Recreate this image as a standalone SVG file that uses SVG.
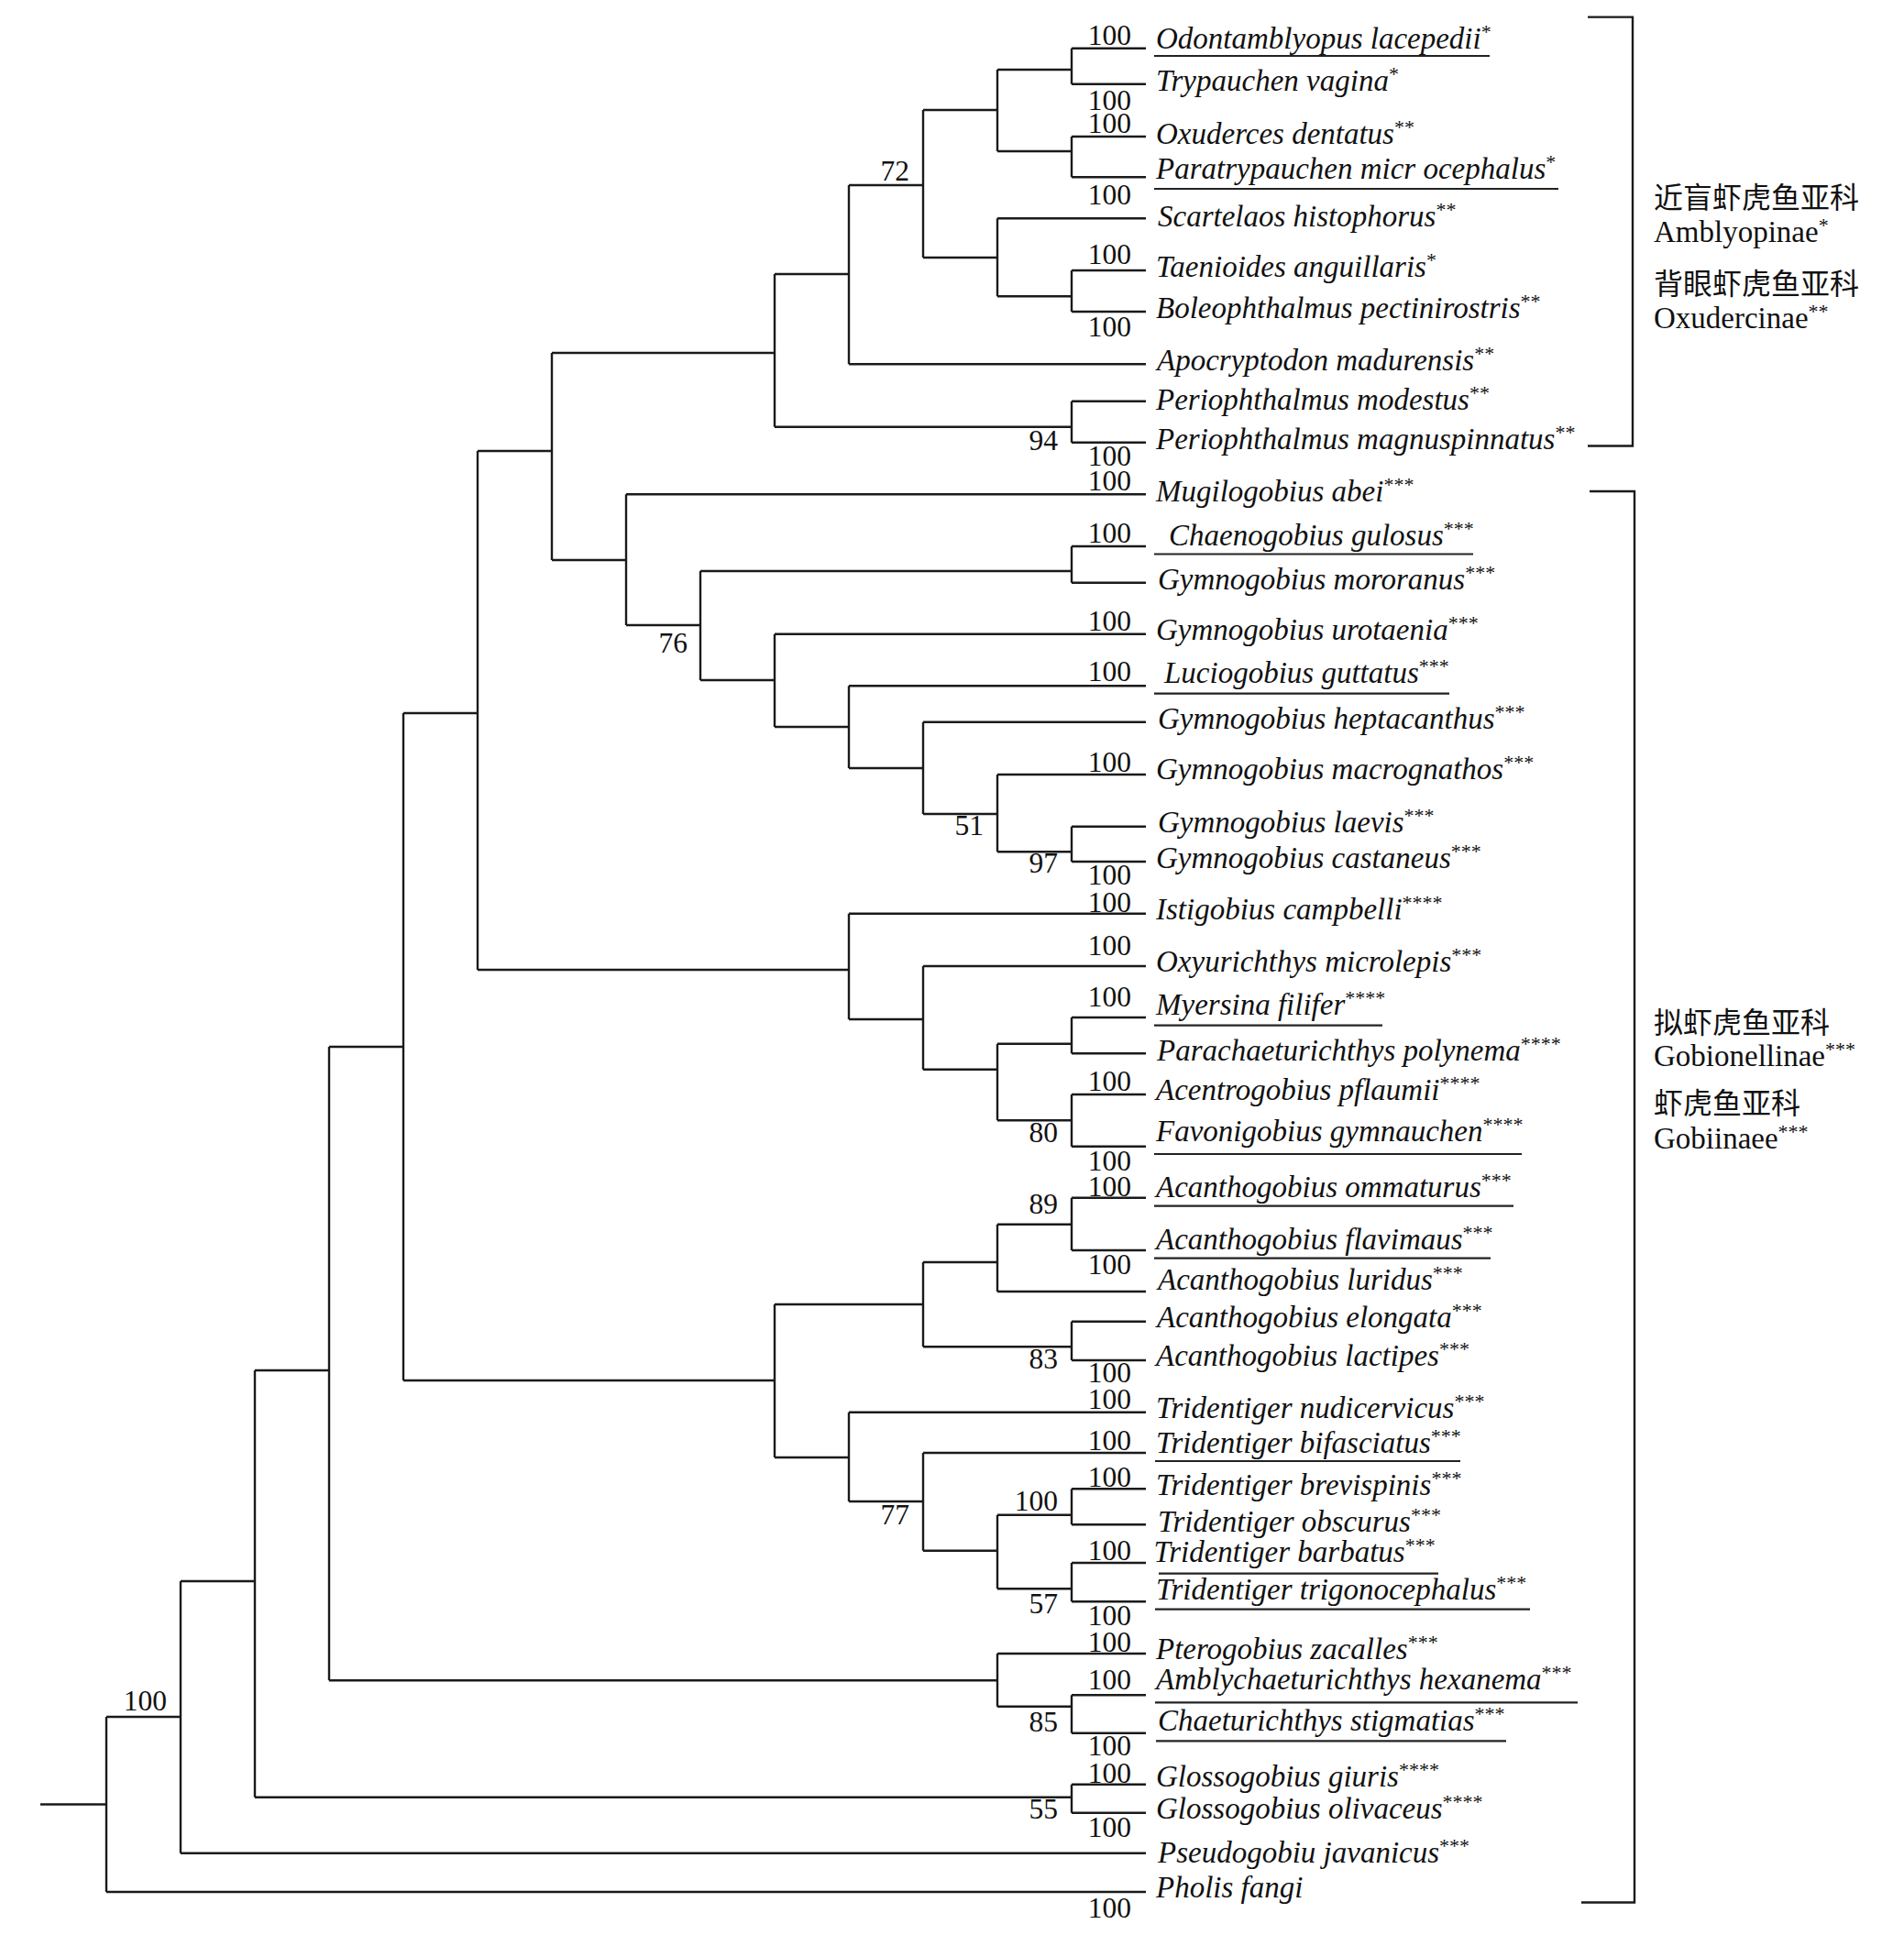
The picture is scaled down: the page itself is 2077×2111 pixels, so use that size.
<svg xmlns="http://www.w3.org/2000/svg" width="2077" height="2111" viewBox="0 0 2077 2111">
<style>
.sp{font-family:"Liberation Serif","Times New Roman",serif;font-style:italic;font-size:33px;fill:#111}
.a{font-size:22px;font-style:normal}
.bs{font-family:"Liberation Serif","Times New Roman",serif;font-size:31.5px;fill:#111;text-anchor:end}
.grp{font-family:"Liberation Serif","Times New Roman",serif;font-size:33px;fill:#111}
.cjk{font-family:"Noto Sans CJK SC","Noto Sans CJK TC",sans-serif;font-size:32px;fill:#111}
.u{stroke:#222;stroke-width:2.2}
#connectors path{fill:none;stroke:#1a1a1a;stroke-width:2.4}
.br{fill:none;stroke:#1a1a1a;stroke-width:2.4}
</style>
<rect width="2077" height="2111" fill="#fff"/>
<g id="connectors">
<path d="M1169,52.7H1250M1169,91.7H1250M1169,149H1250M1169,193.3H1250M1088,238.3H1250M1169,295H1250M1169,340H1250M926,397.3H1250M1169,437.7H1250M1169,482.7H1250"/>
<path d="M683,539.3H1250M1169,596H1250M1169,635.7H1250M845,691.7H1250M926,748.3H1250M1007,787.7H1250M1088,845H1250M1169,901.7H1250M1169,940H1250"/>
<path d="M926,996.7H1250M1007,1054H1250M1169,1110H1250M1169,1149.3H1250M1169,1194H1250M1169,1250.7H1250"/>
<path d="M1169,1306.7H1250M1169,1364H1250M1088,1409H1250M1169,1441.7H1250M1169,1484H1250M926,1540.7H1250M1007,1585H1250M1169,1624.3H1250M1169,1663.3H1250M1169,1705H1250M1169,1747.3H1250"/>
<path d="M1088,1804H1250M1169,1849.3H1250M1169,1890.7H1250M1169,1946.7H1250M1169,1977.7H1250M197,2021.7H1250M116,2064H1250"/>
<path d="M1169,52.7V91.7M1088,76H1169"/>
<path d="M1169,149V193.3M1088,165H1169"/>
<path d="M1088,76V165M1007,120H1088"/>
<path d="M1169,295V340M1088,323.3H1169"/>
<path d="M1088,238.3V323.3M1007,281H1088"/>
<path d="M1007,120V281M926,202H1007"/>
<path d="M926,202V397.3M845,299H926"/>
<path d="M1169,437.7V482.7M845,465.7H1169"/>
<path d="M845,299V465.7M602,385H845"/>
<path d="M1169,596V635.7M764,623H1169"/>
<path d="M1169,901.7V940M1088,929.3H1169"/>
<path d="M1088,845V929.3M1007,888H1088"/>
<path d="M1007,787.7V888M926,838H1007"/>
<path d="M926,748.3V838M845,793H926"/>
<path d="M845,691.7V793M764,742H845"/>
<path d="M764,623V742M683,682H764"/>
<path d="M683,539.3V682M602,611H683"/>
<path d="M602,385V611M521,492H602"/>
<path d="M1169,1110V1149.3M1088,1138.7H1169"/>
<path d="M1169,1194V1250.7M1088,1222.3H1169"/>
<path d="M1088,1138.7V1222.3M1007,1166.7H1088"/>
<path d="M1007,1054V1166.7M926,1112H1007"/>
<path d="M926,996.7V1112M521,1058H926"/>
<path d="M521,492V1058M440,778H521"/>
<path d="M1169,1306.7V1364M1088,1335.7H1169"/>
<path d="M1088,1335.7V1409M1007,1377H1088"/>
<path d="M1169,1441.7V1484M1007,1469.3H1169"/>
<path d="M1007,1377V1469.3M845,1423H1007"/>
<path d="M1169,1624.3V1663.3M1088,1652.7H1169"/>
<path d="M1169,1705V1747.3M1088,1733.3H1169"/>
<path d="M1088,1652.7V1733.3M1007,1691.7H1088"/>
<path d="M1007,1585V1691.7M926,1638H1007"/>
<path d="M926,1540.7V1638M845,1590H926"/>
<path d="M845,1423V1590M440,1506H845"/>
<path d="M440,778V1506M359,1142H440"/>
<path d="M1169,1849.3V1890.7M1088,1861.7H1169"/>
<path d="M1088,1804V1861.7M359,1833.3H1088"/>
<path d="M359,1142V1833.3M278,1495H359"/>
<path d="M1169,1946.7V1977.7M278,1960.7H1169"/>
<path d="M278,1495V1960.7M197,1725H278"/>
<path d="M197,1725V2021.7M116,1873H197"/>
<path d="M116,1873V2064M44,1968.5H116"/>
</g>
<g id="taxa">
<g id="t01"><text class="sp" x="1261" y="53">Odontamblyopus lacepedii<tspan class="a" dy="-11">*</tspan></text><line class="u" x1="1259" y1="61" x2="1625" y2="61"/></g>
<g id="t02"><text class="sp" x="1261" y="99">Trypauchen vagina<tspan class="a" dy="-11">*</tspan></text></g>
<g id="t03"><text class="sp" x="1261" y="156.7">Oxuderces dentatus<tspan class="a" dy="-11">**</tspan></text></g>
<g id="t04"><text class="sp" x="1261" y="195">Paratrypauchen micr ocephalus<tspan class="a" dy="-11">*</tspan></text><line class="u" x1="1259" y1="206" x2="1700" y2="206"/></g>
<g id="t05"><text class="sp" x="1263" y="246.7">Scartelaos histophorus<tspan class="a" dy="-11">**</tspan></text></g>
<g id="t06"><text class="sp" x="1261" y="301.7">Taenioides anguillaris<tspan class="a" dy="-11">*</tspan></text></g>
<g id="t07"><text class="sp" x="1261" y="346.7">Boleophthalmus pectinirostris<tspan class="a" dy="-11">**</tspan></text></g>
<g id="t08"><text class="sp" x="1262" y="404">Apocryptodon madurensis<tspan class="a" dy="-11">**</tspan></text></g>
<g id="t09"><text class="sp" x="1261" y="446.7">Periophthalmus modestus<tspan class="a" dy="-11">**</tspan></text></g>
<g id="t10"><text class="sp" x="1261" y="490">Periophthalmus magnuspinnatus<tspan class="a" dy="-11">**</tspan></text></g>
<g id="t11"><text class="sp" x="1261" y="546.7">Mugilogobius abei<tspan class="a" dy="-11">***</tspan></text></g>
<g id="t12"><text class="sp" x="1275" y="595">Chaenogobius gulosus<tspan class="a" dy="-11">***</tspan></text><line class="u" x1="1259" y1="604.5" x2="1607" y2="604.5"/></g>
<g id="t13"><text class="sp" x="1263" y="643">Gymnogobius mororanus<tspan class="a" dy="-11">***</tspan></text></g>
<g id="t14"><text class="sp" x="1261" y="698">Gymnogobius urotaenia<tspan class="a" dy="-11">***</tspan></text></g>
<g id="t15"><text class="sp" x="1270" y="745">Luciogobius guttatus<tspan class="a" dy="-11">***</tspan></text><line class="u" x1="1259" y1="756.7" x2="1581" y2="756.7"/></g>
<g id="t16"><text class="sp" x="1263" y="795">Gymnogobius heptacanthus<tspan class="a" dy="-11">***</tspan></text></g>
<g id="t17"><text class="sp" x="1261" y="850">Gymnogobius macrognathos<tspan class="a" dy="-11">***</tspan></text></g>
<g id="t18"><text class="sp" x="1263" y="908">Gymnogobius laevis<tspan class="a" dy="-11">***</tspan></text></g>
<g id="t19"><text class="sp" x="1261" y="946.7">Gymnogobius castaneus<tspan class="a" dy="-11">***</tspan></text></g>
<g id="t20"><text class="sp" x="1261" y="1003">Istigobius campbelli<tspan class="a" dy="-11">****</tspan></text></g>
<g id="t21"><text class="sp" x="1261" y="1060">Oxyurichthys microlepis<tspan class="a" dy="-11">***</tspan></text></g>
<g id="t22"><text class="sp" x="1261" y="1106.7">Myersina filifer<tspan class="a" dy="-11">****</tspan></text><line class="u" x1="1259" y1="1118.7" x2="1508" y2="1118.7"/></g>
<g id="t23"><text class="sp" x="1262" y="1156.7">Parachaeturichthys polynema<tspan class="a" dy="-11">****</tspan></text></g>
<g id="t24"><text class="sp" x="1261" y="1200">Acentrogobius pflaumii<tspan class="a" dy="-11">****</tspan></text></g>
<g id="t25"><text class="sp" x="1261" y="1245">Favonigobius gymnauchen<tspan class="a" dy="-11">****</tspan></text><line class="u" x1="1259" y1="1259" x2="1660" y2="1259"/></g>
<g id="t26"><text class="sp" x="1261" y="1306">Acanthogobius ommaturus<tspan class="a" dy="-11">***</tspan></text><line class="u" x1="1259" y1="1315.7" x2="1651" y2="1315.7"/></g>
<g id="t27"><text class="sp" x="1261" y="1362.7">Acanthogobius flavimaus<tspan class="a" dy="-11">***</tspan></text><line class="u" x1="1259" y1="1372.7" x2="1626" y2="1372.7"/></g>
<g id="t28"><text class="sp" x="1263" y="1406.7">Acanthogobius luridus<tspan class="a" dy="-11">***</tspan></text></g>
<g id="t29"><text class="sp" x="1262" y="1448.3">Acanthogobius elongata<tspan class="a" dy="-11">***</tspan></text></g>
<g id="t30"><text class="sp" x="1261" y="1490">Acanthogobius lactipes<tspan class="a" dy="-11">***</tspan></text></g>
<g id="t31"><text class="sp" x="1261" y="1546.7">Tridentiger nudicervicus<tspan class="a" dy="-11">***</tspan></text></g>
<g id="t32"><text class="sp" x="1261" y="1585">Tridentiger bifasciatus<tspan class="a" dy="-11">***</tspan></text><line class="u" x1="1260" y1="1594" x2="1593" y2="1594"/></g>
<g id="t33"><text class="sp" x="1261" y="1630.7">Tridentiger brevispinis<tspan class="a" dy="-11">***</tspan></text></g>
<g id="t34"><text class="sp" x="1263" y="1670.7">Tridentiger obscurus<tspan class="a" dy="-11">***</tspan></text></g>
<g id="t35"><text class="sp" x="1258.6" y="1704">Tridentiger barbatus<tspan class="a" dy="-11">***</tspan></text><line class="u" x1="1264" y1="1716.7" x2="1569" y2="1716.7"/></g>
<g id="t36"><text class="sp" x="1261" y="1745">Tridentiger trigonocephalus<tspan class="a" dy="-11">***</tspan></text><line class="u" x1="1260" y1="1755.7" x2="1669" y2="1755.7"/></g>
<g id="t37"><text class="sp" x="1261" y="1810">Pterogobius zacalles<tspan class="a" dy="-11">***</tspan></text></g>
<g id="t38"><text class="sp" x="1261" y="1843.3">Amblychaeturichthys hexanema<tspan class="a" dy="-11">***</tspan></text><line class="u" x1="1260" y1="1857.3" x2="1721" y2="1857.3"/></g>
<g id="t39"><text class="sp" x="1263" y="1888.3">Chaeturichthys stigmatias<tspan class="a" dy="-11">***</tspan></text><line class="u" x1="1261" y1="1899.3" x2="1643" y2="1899.3"/></g>
<g id="t40"><text class="sp" x="1261" y="1949.3">Glossogobius giuris<tspan class="a" dy="-11">****</tspan></text></g>
<g id="t41"><text class="sp" x="1261" y="1984">Glossogobius olivaceus<tspan class="a" dy="-11">****</tspan></text></g>
<g id="t42"><text class="sp" x="1263" y="2031.7">Pseudogobiu javanicus<tspan class="a" dy="-11">***</tspan></text></g>
<g id="t43"><text class="sp" x="1261" y="2070">Pholis fangi</text></g>
</g>
<g id="support">
<text class="bs" x="1234" y="49">100</text>
<text class="bs" x="1234" y="120">100</text>
<text class="bs" x="1234" y="145">100</text>
<text class="bs" x="1234" y="222.7">100</text>
<text class="bs" x="1234" y="288">100</text>
<text class="bs" x="1234" y="366.7">100</text>
<text class="bs" x="1234" y="508">100</text>
<text class="bs" x="1234" y="535">100</text>
<text class="bs" x="1234" y="591.7">100</text>
<text class="bs" x="1234" y="688">100</text>
<text class="bs" x="1234" y="743">100</text>
<text class="bs" x="1234" y="841.7">100</text>
<text class="bs" x="1234" y="965">100</text>
<text class="bs" x="1234" y="995">100</text>
<text class="bs" x="1234" y="1041.7">100</text>
<text class="bs" x="1234" y="1098.3">100</text>
<text class="bs" x="1234" y="1190">100</text>
<text class="bs" x="1234" y="1276.7">100</text>
<text class="bs" x="1234" y="1305">100</text>
<text class="bs" x="1234" y="1390">100</text>
<text class="bs" x="1234" y="1508">100</text>
<text class="bs" x="1234" y="1536.7">100</text>
<text class="bs" x="1234" y="1581.7">100</text>
<text class="bs" x="1234" y="1621.7">100</text>
<text class="bs" x="1234" y="1701.7">100</text>
<text class="bs" x="1234" y="1773.3">100</text>
<text class="bs" x="1234" y="1801.7">100</text>
<text class="bs" x="1234" y="1843.3">100</text>
<text class="bs" x="1234" y="1915">100</text>
<text class="bs" x="1234" y="1945">100</text>
<text class="bs" x="1234" y="2004">100</text>
<text class="bs" x="1234" y="2091.7">100</text>
<text class="bs" x="992" y="197">72</text>
<text class="bs" x="1154" y="490.7">94</text>
<text class="bs" x="750" y="712">76</text>
<text class="bs" x="1073" y="911">51</text>
<text class="bs" x="1154" y="951.7">97</text>
<text class="bs" x="1154" y="1246">80</text>
<text class="bs" x="1154" y="1324">89</text>
<text class="bs" x="1154" y="1493.3">83</text>
<text class="bs" x="1154" y="1648.3">100</text>
<text class="bs" x="992" y="1663">77</text>
<text class="bs" x="1154" y="1760">57</text>
<text class="bs" x="1154" y="1889.3">85</text>
<text class="bs" x="1154" y="1984">55</text>
<text class="bs" x="182" y="1866">100</text>
</g>
<g id="group-amblyopinae-oxudercinae">
<path class="br" d="M1732,18.6H1781V486.5H1732"/>
<text class="cjk" x="1804" y="227">近盲虾虎鱼亚科</text>
<text class="grp" x="1804" y="264">Amblyopinae<tspan class="a" dy="-11">*</tspan></text>
<text class="cjk" x="1804" y="321">背眼虾虎鱼亚科</text>
<text class="grp" x="1804" y="358">Oxudercinae<tspan class="a" dy="-11">**</tspan></text>
</g>
<g id="group-gobionellinae-gobiinae">
<path class="br" d="M1734,536H1783V2075.5H1725"/>
<text class="cjk" x="1804" y="1127">拟虾虎鱼亚科</text>
<text class="grp" x="1804" y="1163">Gobionellinae<tspan class="a" dy="-11">***</tspan></text>
<text class="cjk" x="1804" y="1215">虾虎鱼亚科</text>
<text class="grp" x="1804" y="1253">Gobiinaee<tspan class="a" dy="-11">***</tspan></text>
</g>
</svg>
